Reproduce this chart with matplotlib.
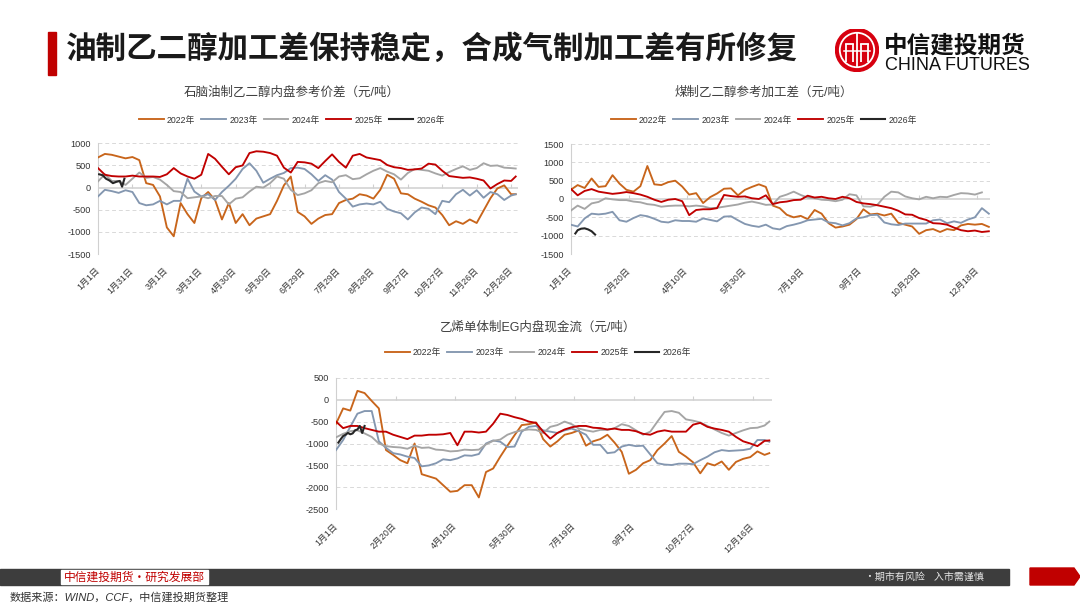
import matplotlib.pyplot as plt
from matplotlib.patches import Rectangle, Circle, Polygon

plt.rcParams['font.family'] = ['Liberation Sans', 'Noto Sans CJK SC']
plt.rcParams['axes.unicode_minus'] = False

# ---------------- data (day of year -> value, 元/吨) ----------------
years = ['2022年', '2023年', '2024年', '2025年', '2026年']
colors = ['#C8651B', '#8497B0', '#A5A5A5', '#C00000', '#262626']

grid_days = list(range(0, 361, 6)) + [364]

# 石脑油制乙二醇内盘参考价差
naph_2022 = [680, 760, 740, 700, 660, 690, 620, 100, 60, -200, -900, -1100, -350, -600, -800, -240,
             -100, -280, -720, -350, -800, -600, -850, -700, -650, -600, -300, 50, 250, -550, -650,
             -820, -700, -620, -600, -350, -280, -250, -150, -180, -250, -50, 290, 200, -130, -150,
             -250, -320, -400, -450, -620, -850, -760, -820, -720, -800, -520, -240, -20, 50, -150, -150]
naph_2023 = [-200, -50, -80, -120, -60, -100, -350, -400, -380, -300, -380, -300, -300, 200, -90, -200,
             -150, -280, -100, 40, 200, 420, 550, 380, 110, 200, 280, 330, 440, 450, 420, 300, 150,
             280, 180, -100, -250, -430, -380, -360, -380, -320, -480, -540, -580, -720, -560, -450,
             -480, -600, -300, -330, -150, -50, -180, -60, -230, -100, -150, -280, -180, -150]
naph_2024 = [140, 300, 150, 150, 60, 200, 340, 220, 240, 180, 60, -80, -100, -240, -220, -200, -240,
             -190, -190, -380, -250, -220, -90, 20, 0, 100, 250, 200, -50, -170, -130, -60, 100, 150,
             120, 250, 280, 190, 210, 300, 380, 440, 360, 300, 180, 330, 420, 400, 380, 320, 270, 350,
             420, 480, 400, 440, 550, 490, 500, 450, 440, 430]
naph_2025 = [440, 290, 260, 250, 250, 270, 250, 250, 250, 240, 300, 440, 320, 250, 200, 290, 760, 650,
             470, 300, 460, 500, 780, 820, 810, 780, 720, 450, 340, 580, 570, 540, 440, 600, 750, 580,
             450, 720, 760, 680, 650, 620, 510, 460, 440, 400, 410, 430, 540, 520, 380, 260, 240, 220,
             230, 200, 160, -20, 80, 160, 150, 250]
naph_2026_days = [1, 4, 7, 10, 13, 16, 19, 21, 23]
naph_2026 = [300, 280, 200, 160, 100, 130, 150, 20, 200]

# 煤制乙二醇参考加工差
coal_2022 = [250, 380, 300, 560, 330, 350, 650, 420, 250, 200, 350, 900, 400, 380, 460, 500, 340, 120,
             160, -110, 50, 150, 280, 290, 100, 250, 330, 400, 330, -180, -250, -430, -500, -460, -550,
             -300, -400, -660, -780, -750, -700, -550, -280, -420, -400, -450, -400, -650, -700, -750,
             -950, -850, -820, -900, -820, -850, -720, -680, -700, -680, -760]
coal_2023 = [-700, -750, -530, -400, -420, -400, -350, -580, -620, -520, -440, -470, -540, -620, -640,
             -580, -600, -600, -620, -530, -570, -610, -480, -470, -580, -680, -730, -760, -700, -800,
             -830, -740, -700, -650, -580, -560, -540, -640, -660, -720, -660, -530, -500, -440, -430,
             -640, -690, -710, -670, -670, -670, -670, -580, -560, -660, -610, -650, -560, -500, -250, -400]
coal_2024 = [-320, -180, -270, -120, -80, 20, -10, -30, -30, -70, -90, -140, -160, -210, -190, -180,
             -180, -200, -180, -200, -250, -240, -210, -180, -150, -100, -70, -110, -160, -150, 60, 120,
             200, 110, 40, 20, -20, -30, -60, -20, 130, 100, -200, -210, -160, 60, 200, 180, 70, 20,
             -10, 60, 20, 60, 50, 110, 160, 150, 120, 180]
coal_2025 = [280, 100, 220, 270, 200, 170, 140, 160, 190, 160, 120, 60, -20, -80, -20, 0, -60, -440,
             -300, -280, -280, -250, 110, 80, 60, 70, 20, 0, 100, -140, -90, -70, -30, -20, 90, 40, 60,
             20, 0, 60, 20, -80, -120, -140, -170, -210, -250, -320, -420, -430, -520, -570, -660, -670,
             -700, -780, -850, -880, -860, -900, -880]
coal_2026_days = [4, 6, 9, 12, 15, 18, 21]
coal_2026 = [-940, -850, -810, -800, -830, -880, -970]

# 乙烯单体制EG内盘现金流
eth_2022 = [-550, -200, -250, 200, 150, -30, -200, -1150, -1260, -1380, -1450, -1000, -1700, -1750, -1800,
            -1950, -2100, -2080, -1950, -1950, -2230, -1650, -1570, -1300, -1050, -810, -580, -560, -520,
            -900, -1070, -950, -800, -760, -700, -1050, -950, -900, -800, -980, -1190, -1690, -1600,
            -1450, -1380, -1150, -1000, -830, -1190, -1300, -1430, -1680, -1450, -1500, -1410, -1600,
            -1420, -1350, -1310, -1180, -1260, -1220]
eth_2023 = [-1150, -920, -620, -320, -260, -260, -950, -1100, -1220, -1250, -1300, -1330, -1520, -1500,
            -1450, -1360, -1380, -1340, -1270, -1280, -1240, -1000, -930, -960, -1080, -1070, -730, -620,
            -600, -700, -730, -760, -700, -660, -720, -800, -1030, -1030, -1220, -1200, -1070, -1030,
            -1060, -1050, -1250, -1450, -1480, -1490, -1460, -1460, -1470, -1380, -1300, -1200, -1150,
            -1170, -1160, -1150, -1120, -920, -920, -960]
eth_2024 = [-860, -780, -720, -700, -770, -850, -1000, -1060, -1080, -1090, -1120, -1050, -1100, -1090,
            -1140, -1150, -1180, -1170, -1140, -1150, -1140, -1020, -940, -910, -800, -740, -700, -680,
            -690, -760, -620, -580, -500, -560, -660, -700, -730, -690, -690, -650, -560, -600, -700,
            -800, -730, -500, -280, -260, -300, -450, -480, -520, -600, -680, -760, -820, -760, -700,
            -650, -640, -590, -500]
eth_2025 = [-500, -650, -600, -600, -650, -690, -730, -730, -800, -850, -900, -820, -820, -800, -800,
            -790, -760, -1040, -730, -730, -750, -730, -550, -320, -350, -400, -440, -500, -530, -730,
            -890, -760, -680, -630, -600, -600, -640, -650, -680, -660, -690, -690, -720, -780, -800,
            -730, -700, -730, -730, -730, -570, -530, -620, -660, -690, -730, -850, -950, -1000, -1060,
            -940, -930]
eth_2026_days = [2, 4, 6, 8, 10, 12, 14, 16, 18, 20, 22, 24]
eth_2026 = [-980, -900, -830, -800, -760, -790, -770, -700, -680, -600, -760, -600]

ticks_30 = list(range(0, 361, 30))
labels_30 = ['1月1日', '1月31日', '3月1日', '3月31日', '4月30日', '5月30日', '6月29日',
             '7月29日', '8月28日', '9月27日', '10月27日', '11月26日', '12月26日']
ticks_50 = list(range(0, 351, 50))
labels_coal = ['1月1日', '2月20日', '4月10日', '5月30日', '7月19日', '9月7日', '10月29日', '12月18日']
labels_eth = ['1月1日', '2月20日', '4月10日', '5月30日', '7月19日', '9月7日', '10月27日', '12月16日']

W, H = 1080, 608
fig = plt.figure(figsize=(W / 100, H / 100), dpi=100)

bg = fig.add_axes([0, 0, 1, 1])
bg.set_xlim(0, W)
bg.set_ylim(H, 0)
bg.axis('off')


def px_axes(left, top, right, bottom):
    return fig.add_axes([left / W, 1 - bottom / H, (right - left) / W, (bottom - top) / H])


def draw_chart(box, series, last_days, last_vals, ylim, ystep, xticks, xlabels, xmax,
               title, title_x, title_y, legend_y):
    ax = px_axes(*box)
    ax.set_facecolor('none')
    lines = []
    for vals, c in zip(series, colors[:4]):
        ln, = ax.plot(grid_days[:len(vals)], vals, color=c, lw=1.35, zorder=3)
        lines.append(ln)
    ln, = ax.plot(last_days, last_vals, color=colors[4], lw=1.5, zorder=4)
    lines.append(ln)

    yticks = list(range(ylim[0], ylim[1] + 1, ystep))
    for y in yticks:
        if y == 0:
            ax.axhline(0, color='#d0d0d0', lw=1.1, zorder=1)
        else:
            ax.axhline(y, color='#d9d9d9', lw=0.7, ls=(0, (4, 3)), zorder=0)
    h = (ylim[1] - ylim[0]) * 4 / (box[3] - box[1])
    ax.vlines(xticks[1:], 0, h, color='#d0d0d0', lw=0.8, zorder=1)

    ax.set_xlim(0, xmax)
    ax.set_ylim(ylim[0], ylim[1])
    ax.set_yticks(yticks)
    ax.set_xticks(xticks)
    ax.set_xticklabels(xlabels, rotation=45, ha='right', va='center', rotation_mode='anchor')
    ax.tick_params(axis='y', length=0, pad=5, labelsize=6.6, labelcolor='#333333')
    ax.tick_params(axis='x', length=0, pad=11, labelsize=6.4, labelcolor='#333333')
    for s in ['top', 'right', 'bottom']:
        ax.spines[s].set_visible(False)
    ax.spines['left'].set_color('#d0d0d0')
    ax.spines['left'].set_linewidth(0.8)

    fig.text(title_x / W, 1 - title_y / H, title, ha='center', va='center',
             fontsize=9, color='#404040')
    fig.legend(lines, years, loc='center', bbox_to_anchor=(title_x / W, 1 - legend_y / H),
               ncol=5, frameon=False, fontsize=6.3, handlelength=2.8, handletextpad=0.4,
               columnspacing=0.7, labelcolor='#333333')


draw_chart((98, 143.3, 518, 254), [naph_2022, naph_2023, naph_2024, naph_2025],
           naph_2026_days, naph_2026, (-1500, 1000), 500, ticks_30, labels_30, 366,
           '石脑油制乙二醇内盘参考价差（元/吨）', 292, 93, 120)
draw_chart((570.7, 144, 990, 254), [coal_2022, coal_2023, coal_2024, coal_2025],
           coal_2026_days, coal_2026, (-1500, 1500), 500, ticks_50, labels_coal, 361,
           '煤制乙二醇参考加工差（元/吨）', 764, 93, 120)
draw_chart((336, 377.7, 771.7, 509.3), [eth_2022, eth_2023, eth_2024, eth_2025],
           eth_2026_days, eth_2026, (-2500, 500), 500, ticks_50, labels_eth, 366,
           '乙烯单体制EG内盘现金流（元/吨）', 538, 327, 353)

# ---------------- header ----------------
bg.add_patch(Rectangle((48, 32), 8, 43, color='#C00000'))
bg.text(66, 49, '油制乙二醇加工差保持稳定，合成气制加工差有所修复', fontsize=22,
        fontweight='bold', va='center', ha='left', color='#1a1a1a',
        family=['Noto Sans CJK SC'])

logo = px_axes(835, 28.5, 879, 71.5)
logo.set_xlim(-1, 1)
logo.set_ylim(-1, 1)
logo.set_aspect('equal')
logo.axis('off')
logo.add_patch(Circle((0, 0), 1, color='#D7000F'))
logo.add_patch(Circle((0, 0), 0.8, fill=False, ec='white', lw=1.3))
for x0 in (-0.5, -0.2, 0.2, 0.5):
    logo.plot([x0, x0], [-0.55, 0.3], color='white', lw=1.3, solid_capstyle='butt')
logo.plot([-0.5, -0.2], [0.3, 0.3], color='white', lw=1.3)
logo.plot([0.2, 0.5], [0.3, 0.3], color='white', lw=1.3)
logo.plot([0, 0], [-0.78, 0.78], color='white', lw=1.3)
logo.plot([-0.62, 0.62], [-0.05, -0.05], color='white', lw=1.1)

bg.text(884, 46, '中信建投期货', fontsize=17, fontweight='bold', va='center', ha='left',
        color='#111111', family=['Noto Sans CJK SC'])
bg.text(885, 66, 'CHINA FUTURES', fontsize=13, va='center', ha='left', color='#111111')

# ---------------- footer ----------------
bg.add_patch(Rectangle((0, 568.5), 1009, 16.5, color='#3d3d3d'))
bg.add_patch(Rectangle((61, 569.5), 147, 14.5, color='white'))
bg.text(134.5, 577, '中信建投期货•研究发展部', fontsize=8.5, color='#C00000', ha='center',
        va='center', family=['Noto Sans CJK SC'])
bg.text(924, 577, '•期市有风险    入市需谨慎', fontsize=7.2, color='#e6e6e6', ha='center',
        va='center', family=['Noto Sans CJK SC'])
bg.add_patch(Polygon([(1030, 568), (1074, 568), (1080, 576.5), (1074, 585), (1030, 585)],
                     color='#C00000'))
bg.text(10, 597, '数据来源：WIND，CCF，中信建投期货整理', fontsize=8, color='#333333',
        ha='left', va='center', style='italic')

fig.savefig('out.png', dpi=100)
